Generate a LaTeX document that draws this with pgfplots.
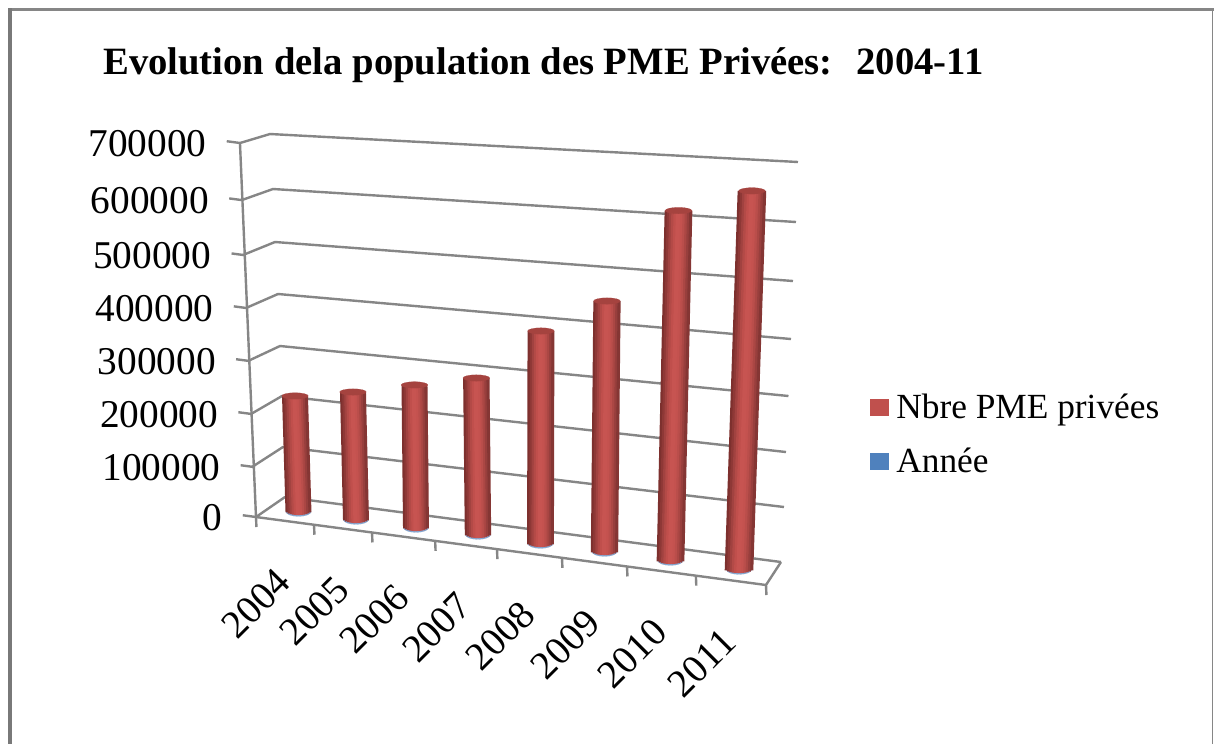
\documentclass[border=0pt]{standalone}
\usepackage{pgfplots}
\usepackage{pgfplotstable}
\usepackage{fontspec}
\pgfplotsset{compat=1.18}
\setmainfont{Liberation Serif}
\newfontfamily\narrowsp{Liberation Serif}[WordSpace=0.45]
\newfontfamily\titlesp{Liberation Serif}[WordSpace=1]
\definecolor{gridgray}{HTML}{868686}
\definecolor{topred}{HTML}{A5433F}
\definecolor{redmain}{HTML}{C0504D}
\definecolor{bluemain}{HTML}{4F81BD}
\definecolor{bluelight}{HTML}{84A7D1}
\definecolor{sa}{HTML}{7D302E}
\definecolor{sb}{HTML}{8E3836}
\definecolor{sc}{HTML}{A14240}
\definecolor{sd}{HTML}{B34A47}
\definecolor{se}{HTML}{C04F4C}
\definecolor{sf}{HTML}{C75451}
\definecolor{sg}{HTML}{C4524F}
\definecolor{sh}{HTML}{BA4E4B}
\definecolor{si}{HTML}{AB4744}
\definecolor{sj}{HTML}{983F3D}
\definecolor{sk}{HTML}{853634}
% year, value, bottom-centre pixel of the cylinder, its width, and the local
% perspective scale (pixels per 100000)
\pgfplotstableread{
year value bx by w sx sy
2004 214000 298.5 510 26 -1.64 53.3
2005 233000 356 518 26 -1.29 54.08
2006 257000 416 526 26 -0.58 54.9
2007 279000 478 533 26.5 -0.6 55.56
2008 375000 540.5 542 27 0.13 56.27
2009 437000 604.5 550 27.5 0.57 56.98
2010 606000 670.5 559 28 1.32 57.5
2011 648000 739 568 29 2.0 58.2
}\bars
\newcommand\wall[6]{\addplot[forget plot,draw=gridgray,line width=1.8pt] table[row sep=\\,x expr={pu(\thisrow{X},\thisrow{Y})},y expr={pv(\thisrow{X},\thisrow{Y})}] {X Y\\ #1 #2\\ #3 #4\\ #5 #6\\};}
\newcommand\strip[2]{\addplot[forget plot,draw=#2,line width=2.3pt,
  quiver={
    u={pu(\thisrow{bx}+\thisrow{value}/100000*\thisrow{sx}+(#1)*\thisrow{w},\thisrow{by}-\thisrow{value}/100000*\thisrow{sy})-pu(\thisrow{bx}+(#1)*\thisrow{w},\thisrow{by}+5*sqrt(1-4*(#1)*(#1)))},
    v={pv(\thisrow{bx}+\thisrow{value}/100000*\thisrow{sx}+(#1)*\thisrow{w},\thisrow{by}-\thisrow{value}/100000*\thisrow{sy})-pv(\thisrow{bx}+(#1)*\thisrow{w},\thisrow{by}+5*sqrt(1-4*(#1)*(#1)))}
  }] table[
    x expr={pu(\thisrow{bx}+(#1)*\thisrow{w},\thisrow{by}+5*sqrt(1-4*(#1)*(#1)))},
    y expr={pv(\thisrow{bx}+(#1)*\thisrow{w},\thisrow{by}+5*sqrt(1-4*(#1)*(#1)))}] {\bars};}
\begin{document}
\begin{tikzpicture}[x=0.75pt,y=-0.75pt]
\fill[white] (0,0) rectangle (1214,744);
\fill[gridgray] (8,8) rectangle (1214,11);
\fill[gridgray!90!black] (8,8) rectangle (12,744);
\fill[gridgray] (1211.5,8) rectangle (1212.5,744);
\node[anchor=base west,inner sep=0pt,font=\fontsize{29pt}{30pt}\bfseries\titlesp] at (103,74) {Evolution dela population des PME Privées:\hspace{0.62em}2004-11};
\begin{axis}[
  at={(192pt,-387.75pt)},anchor=origin,
  x={(47.8125pt,-6.375pt)},y={(-1.7175pt,40.0725pt)},
  xmin=0,xmax=8,ymin=0,ymax=7,
  clip=false,clip marker paths=true,
  axis x line=bottom,axis y line=left,
  axis line style={-,draw=gridgray,line width=1.8pt},
  declare function={
    pu(\X,\Y)=((\X-256)*53.43+2.29*(517-\Y))/3386.7;
    pv(\X,\Y)=(63.75*(517-\Y)+8.5*(\X-256))/3386.7;
  },
  tick align=outside,
  xtick={0.455,1.365,2.31,3.29,4.29,5.31,6.36,7.45},
  xticklabels={2004,2005,2006,2007,2008,2009,2010,2011},
  minor xtick={0,0.91,1.82,2.81,3.78,4.80,5.82,6.90,8},
  major x tick style={draw=none},
  minor x tick style={draw=gridgray,line width=1.8pt},
  minor tick length=7.5pt,
  major tick length=10pt,
  ytick={0,0.936,1.928,2.92,3.91,4.90,5.93,7},
  yticklabels={0,100000,200000,300000,400000,500000,600000,700000},
  y tick style={draw=gridgray,line width=1.8pt},
  xticklabel style={font=\fontsize{29.5pt}{30pt}\selectfont,rotate=45,anchor=center,xshift=-52.3pt,yshift=-20.9pt,inner sep=0pt},
  yticklabel style={font=\fontsize{29.5pt}{30pt}\selectfont,anchor=east,xshift=-15pt,yshift=-1.5pt,inner sep=0pt},
  legend style={at={(axis cs:9.74,3.10)},anchor=west,draw=none,fill=none,font=\fontsize{26.5pt}{28pt}\narrowsp,row sep=20pt,inner sep=0pt,
    nodes={inner sep=0pt,anchor=west}},
  legend cell align=left,
  legend image code/.code={\fill[#1] (0pt,-6pt) rectangle (13.5pt,6pt);\path[draw=none,fill=none] (0pt,0pt) -- (19.5pt,0pt);},
]
\wall{240}{143}{270}{134}{798}{162}
\wall{242}{200}{273}{189}{796}{222}
\wall{243}{255}{275}{242}{793}{281}
\wall{246}{308}{278}{294}{791}{339}
\wall{248}{361}{280}{346}{788.5}{396}
\wall{251}{414}{282}{396}{786}{452}
\wall{252}{467}{283}{447}{784}{507}
\wall{256}{517}{285}{497}{781}{562}
\addplot[forget plot,draw=gridgray,line width=1.8pt] table[row sep=\\,x expr={pu(\thisrow{X},\thisrow{Y})},y expr={pv(\thisrow{X},\thisrow{Y})}] {X Y\\ 766 585\\ 781 562\\};
% Annee series: the years themselves, almost nothing on this scale
\addplot[forget plot,only marks,mark=*,mark size=9.5pt,mark options={yscale=0.38,draw=bluelight,line width=0.1pt,fill=bluelight}] table[x expr={pu(\thisrow{bx},\thisrow{by}+1.6)},y expr={pv(\thisrow{bx},\thisrow{by}+1.6)+\thisrow{year}/100000/53}] {\bars};
\strip{-0.44}{sa}
\strip{-0.36}{sb}
\strip{-0.28}{sc}
\strip{-0.20}{sd}
\strip{-0.12}{se}
\strip{-0.04}{sf}
\strip{0.04}{sf}
\strip{0.12}{sg}
\strip{0.20}{sh}
\strip{0.28}{si}
\strip{0.36}{sj}
\strip{0.44}{sk}
\addplot[forget plot,only marks,mark=*,mark size=10pt,mark options={yscale=0.24,draw=topred,line width=0.1pt,fill=topred}] table[
  x expr={pu(\thisrow{bx}+\thisrow{value}/100000*\thisrow{sx},\thisrow{by}-\thisrow{value}/100000*\thisrow{sy})},
  y expr={pv(\thisrow{bx}+\thisrow{value}/100000*\thisrow{sx},\thisrow{by}-\thisrow{value}/100000*\thisrow{sy})}] {\bars};
\addlegendimage{redmain}
\addlegendentry{Nbre PME privées}
\addlegendimage{bluemain}
\addlegendentry{Année}
\end{axis}
\end{tikzpicture}
\end{document}
